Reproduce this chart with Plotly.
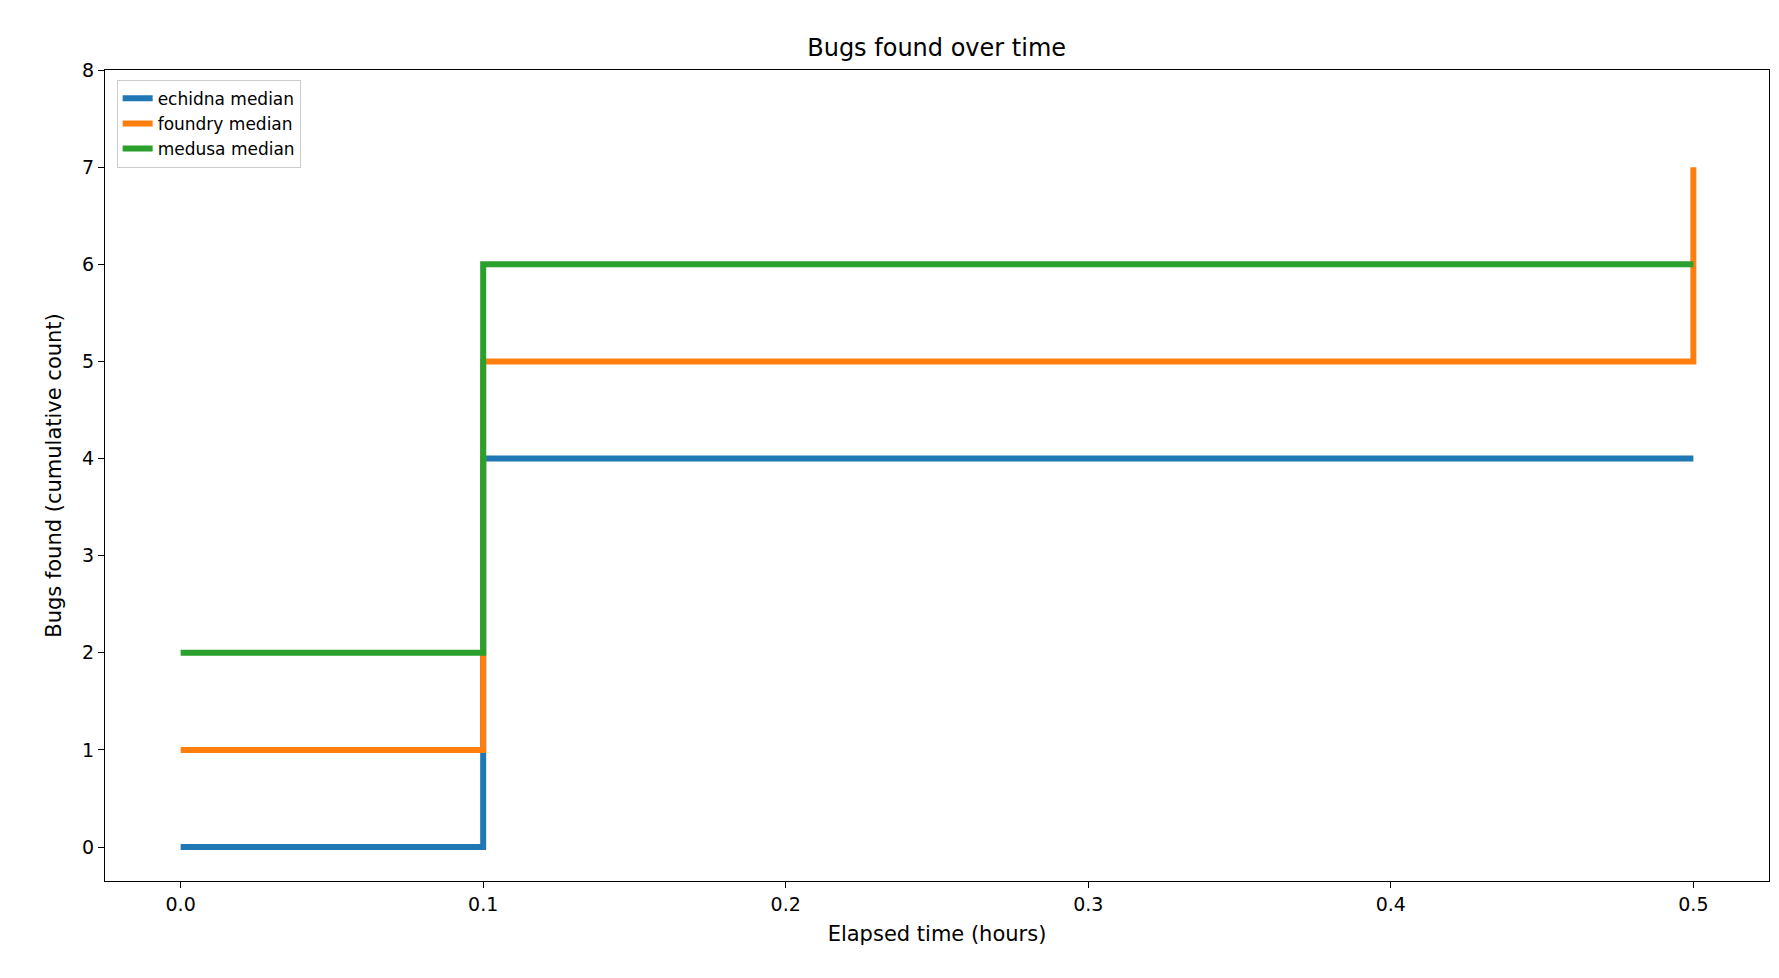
import plotly.graph_objects as go

elapsed_hours = [0.0, 0.1, 0.5]
echidna_median = [0, 4, 4]
foundry_median = [1, 5, 7]
medusa_median = [2, 6, 6]

series = [
    ("echidna median", echidna_median, "#1f77b4"),
    ("foundry median", foundry_median, "#ff7f0e"),
    ("medusa median", medusa_median, "#2ca02c"),
]

fig = go.Figure()
for name, values, color in series:
    fig.add_trace(go.Scatter(
        x=elapsed_hours, y=values, name=name, mode="lines",
        line=dict(shape="hv", color=color, width=6),
    ))

axis = dict(
    showline=True, linecolor="black", linewidth=1.2, mirror=True,
    ticks="outside", ticklen=6, tickcolor="black", showgrid=False,
    zeroline=False, tickfont=dict(size=19, color="black"),
    title_font=dict(size=21, color="black"),
)

fig.update_layout(
    width=1779, height=978,
    paper_bgcolor="white", plot_bgcolor="white",
    font=dict(family="DejaVu Sans", color="black"),
    title=dict(text="Bugs found over time", x=0.522, xanchor="center",
               y=0.968, font=dict(size=24)),
    margin=dict(l=97, r=18, t=62, b=105),
    legend=dict(x=0.007, y=0.988, xanchor="left", yanchor="top",
                bgcolor="white", bordercolor="#cccccc", borderwidth=1,
                font=dict(size=17)),
    xaxis=dict(axis, range=[-0.025, 0.525], tickvals=[0, 0.1, 0.2, 0.3, 0.4, 0.5],
               ticktext=["0.0", "0.1", "0.2", "0.3", "0.4", "0.5"],
               title=dict(text="Elapsed time (hours)", standoff=12)),
    yaxis=dict(axis, range=[-0.35, 8], dtick=1,
               title=dict(text="Bugs found (cumulative count)", standoff=14)),
)

fig.write_html("out.html")
